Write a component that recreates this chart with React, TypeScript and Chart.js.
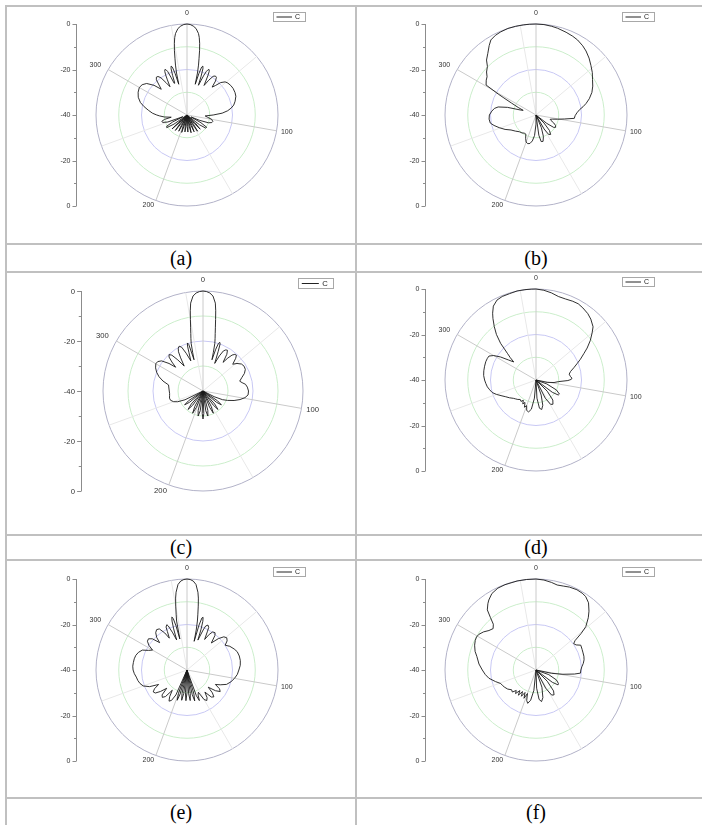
import React, { useEffect, useRef } from 'react';
import { Chart, registerables } from 'chart.js';

Chart.register(...registerables);

// ---------- categories / ticks ----------
const degreeLabels: string[] = Array.from({ length: 360 }, (_, i) => String(i));
const labelledAngles = [0, 100, 200, 300];
const radialMin = -40;
const radialMax = 0;
const radialStep = 10;
const axisTicks = [0, -10, -20, -30, -40];
const axisLabelStep = 20;
const seriesName = 'C';
const captions = ['(a)', '(b)', '(c)', '(d)', '(e)', '(f)'];

type Pair = [number, number]; // [angle in degrees, level in dB]

// ---------- series (angle, dB) ----------
const patternA: Pair[] = [
  [0, 0], [2, -0.2], [4, -0.8], [6, -1.8], [8, -3.8], [9, -5.5], [10, -8], [11, -11], [12, -14.5], [13, -17.5], [14, -21], [15, -26],
  [16, -21], [17, -18], [18, -17.4], [19, -18.5], [20, -22], [21, -26],
  [23, -21], [24, -19], [25, -18], [26, -17.8], [27, -18.5], [28, -20.5], [30, -25],
  [32, -22], [34, -19.5], [36, -18.8], [38, -19], [40, -20.5], [42, -23.5],
  [44, -22], [46, -19.5], [49, -17.8], [52, -17.2], [56, -16.8], [60, -16.6], [65, -16.7], [69, -17], [74, -18], [78, -19], [81, -20.3],
  [84, -22], [87, -24.5], [90, -28.5], [93, -32],
  [96, -31], [100, -29], [104, -28.3], [107, -28.6], [110, -30], [113, -34], [116, -38],
  [119, -33], [122, -29.8], [125, -30], [128, -33], [131, -40],
  [134, -35], [137, -31.5], [139, -35], [142, -40], [145, -35], [147, -31.5], [149, -35], [152, -40], [155, -35], [157, -32], [159, -35], [162, -40],
  [165, -35], [167, -32], [169, -35], [172, -40], [175, -35], [177, -32.5], [179, -35], [182, -40], [185, -35], [187, -32.5], [189, -35], [192, -40],
  [195, -35], [197, -32], [199, -35], [202, -40], [205, -35], [207, -32], [209, -35], [212, -40], [215, -35], [217, -31.5], [219, -35], [222, -40],
  [225, -35], [227, -31], [229, -35], [232, -40],
  [235, -33], [238, -29.5], [241, -29.8], [244, -33], [247, -38],
  [250, -31], [253, -28.8], [256, -28.6], [259, -30], [262, -33],
  [265, -30], [268, -28], [270, -26.7], [273, -24.8], [277, -22.9], [281, -20.8], [285, -18.8], [290, -17.2], [295, -16.3], [300, -15.8],
  [304, -16.2], [308, -17.5], [312, -20.5], [315, -24],
  [317, -22], [319, -19.5], [321, -18.6], [323, -18.8], [325, -20], [327, -23], [329, -25.5],
  [331, -22], [332, -20], [333, -18.5], [334, -17.8], [335, -18], [336, -19], [337, -22], [338, -25],
  [339, -25], [340, -21.5], [341, -18.5], [342, -17.4], [343, -18], [344, -21], [345, -26],
  [346, -21], [347, -17.5], [348, -14.5], [349, -11], [350, -8], [351, -5.5], [352, -3.8], [354, -1.8], [356, -0.8], [358, -0.2],
];

const patternB: Pair[] = [
  [0, 0], [5, -0.1], [10, -0.4], [14, -0.7], [20, -1.3], [25, -1.8], [29, -2.3], [34, -3.3], [38, -4.3], [43, -5.8], [48, -7.5], [53, -9],
  [58, -10.7], [63, -12], [68, -13.5], [73, -15.5], [77, -17.4], [80, -19], [83, -20.7], [87, -22], [91, -22.8], [95, -23.1], [98, -27.4],
  [101, -30.3], [104, -32.5], [107, -33.5],
  [110, -33], [114, -31.5], [118, -30.3], [122, -29.8], [125, -30.5], [128, -34], [131, -40],
  [135, -35], [139, -31], [143, -29.3], [147, -29.8], [150, -33], [153, -40],
  [157, -34], [161, -30], [165, -28], [169, -28.1], [172, -31], [175, -40],
  [180, -36], [184, -31], [188, -28.5], [192, -27.2], [196, -26.9], [200, -27.3], [204, -28.8], [208, -30.5], [213, -30.5], [218, -30],
  [225, -29.6], [232, -28.5], [239, -27.2], [245, -25], [251, -22.9], [256, -21], [260, -19.6], [265, -19.3], [270, -19.5], [275, -20.5],
  [279, -21.5], [282, -23], [285, -27], [288, -33], [290, -34], [293, -31.5], [296, -28], [298, -24], [299, -21], [301, -14.4],
  [305, -13.3], [308, -12.7], [311, -11.2], [315, -9.8], [318, -7.5], [322, -5.6], [326, -3.2], [329, -1.5], [333, -0.7], [337, -0.3],
  [342, 0], [347, 0], [352, 0], [356, 0],
];

const patternC: Pair[] = [
  [0, 0], [2, -0.2], [4, -0.7], [6, -1.8], [8, -4.5], [9, -7.5], [10, -11], [11, -14], [12, -16.5], [13, -18.5], [14, -20.5], [15, -24], [16, -27],
  [17, -22.5], [18, -20], [19, -19.4], [20, -20], [21, -23], [23, -28],
  [25, -24.5], [27, -22], [29, -21.2], [31, -21], [33, -22.5], [35, -26],
  [37, -23.5], [39, -21.5], [41, -20.6], [43, -20.4], [45, -21.5], [48, -24],
  [51, -22.5], [55, -21.2], [59, -20.8], [63, -21], [67, -22], [71, -23.6], [75, -24.8], [78, -24], [81, -22.8], [85, -22.2], [90, -21.8],
  [95, -21.9], [99, -23], [103, -24.8], [107, -27], [111, -29.5], [114, -31.5], [117, -35], [120, -40],
  [124, -33], [127, -30.8], [130, -33], [134, -40], [138, -33], [141, -30.5], [144, -33], [148, -40], [152, -33], [155, -30.2], [158, -33], [162, -40],
  [166, -32], [169, -29.8], [172, -32], [175, -40], [178, -31], [180, -28.8], [182, -31], [185, -40], [188, -32], [191, -29.8], [194, -32], [198, -40],
  [202, -33], [205, -30.2], [208, -33], [212, -40], [216, -33], [219, -30.5], [222, -33], [226, -40], [230, -33], [233, -30.8], [236, -33], [240, -40],
  [244, -32], [247, -29], [250, -27.5], [254, -26.5], [258, -26.3], [262, -26.5], [266, -26.6], [270, -26.5], [275, -26.3], [280, -26],
  [284, -23.5], [288, -21.5], [292, -20], [296, -18.9], [300, -18.2], [303, -18.4], [306, -19.5], [309, -22.5], [311, -25.5],
  [313, -23], [315, -20.8], [317, -20.1], [319, -21], [321, -24], [323, -27.5],
  [326, -24], [328, -21.5], [330, -20.2], [332, -19.7], [334, -20.5], [336, -23.5], [338, -27],
  [340, -23.5], [341, -21], [342, -19.8], [343, -20.5], [344, -27],
  [345, -24], [346, -20.5], [347, -18.5], [348, -16.5], [349, -14], [350, -11], [351, -7.5], [352, -4.5], [354, -1.8], [356, -0.7], [358, -0.2],
];

const patternD: Pair[] = [
  [0, 0], [5, -0.4], [10, -1.1], [15, -2], [20, -2.1], [25, -1.8], [29, -1.7], [33, -2.2], [38, -3], [42, -4], [47, -5.7], [50, -7.8],
  [54, -10.5], [58, -13.5], [61, -15.9], [65, -18.5], [68, -20.4], [72, -22.5], [76, -24.3], [80, -25.2], [84, -24.8], [87, -24.2],
  [89, -24.5], [91, -26], [94, -30], [98, -32], [102, -35], [106, -40],
  [110, -35], [116, -30], [121, -28], [124, -28.2], [127, -31], [131, -40],
  [135, -33], [140, -28.5], [145, -27], [149, -27.5], [153, -31], [157, -40],
  [161, -33], [165, -28.5], [169, -26.8], [173, -27.5], [177, -32], [181, -40],
  [185, -32], [189, -27], [193, -25.6], [197, -26], [200, -28], [203, -27], [206, -29], [209, -28], [212, -29.5], [215, -28.5], [219, -29],
  [223, -28.3], [227, -27.8], [231, -27.2], [236, -26], [241, -24.8], [245, -23.5], [250, -21.5], [254, -20], [258, -19.2], [262, -18.4],
  [266, -17.9], [270, -17.4], [275, -16.9], [280, -16.7], [285, -16.6], [290, -16.5], [294, -16.6], [297, -16.8], [300, -18.5],
  [303, -21.4], [306, -25], [309, -27.4], [311, -25], [313, -22.8], [316, -17.6], [319, -13.5], [322, -10.2], [325, -7], [327, -5],
  [330, -2.5], [334, -0.9], [338, -0.4], [343, -0.3], [348, 0], [353, 0], [357, 0],
];

const patternE: Pair[] = [
  [0, 0], [2, -0.2], [4, -0.8], [6, -2.2], [8, -5.5], [9, -8], [10, -11.5], [11, -15], [12, -18], [13, -22], [14, -27],
  [15, -19.5], [16, -16.2], [17, -15.8], [18, -17.5], [19, -21], [20, -26],
  [22, -21], [23, -19], [25, -18.2], [27, -19], [28, -21], [30, -24.5],
  [32, -21.5], [34, -19.8], [37, -19.5], [39, -20.5], [42, -24],
  [45, -20.5], [48, -18.2], [51, -17.5], [54, -18.2], [57, -20],
  [61, -18.5], [66, -17.3], [70, -16.5], [75, -16.2], [80, -16.2], [85, -16.5], [90, -17.2], [95, -17.8], [100, -18.8], [105, -20], [110, -21.5],
  [114, -24], [117, -26], [120, -23.5], [123, -22.6], [126, -24.5], [129, -28], [132, -25], [135, -23.3], [138, -24], [141, -27.5],
  [144, -25], [147, -24], [150, -25], [153, -29],
  [156, -28], [158, -25.5], [160, -28], [162, -40], [164, -29], [166, -26], [168, -29], [170, -40], [172, -29.5], [174, -26.5], [176, -29.5],
  [178, -40], [180, -30], [182, -26.5], [184, -30], [186, -40], [188, -29.5], [190, -26.5], [192, -29.5], [194, -40], [196, -29], [198, -26],
  [200, -29], [202, -40], [204, -28],
  [207, -25], [210, -24.2], [213, -26], [216, -29], [219, -25], [222, -23.8], [225, -24.5], [228, -28], [231, -25], [234, -22.8], [237, -22.3],
  [240, -23.5], [243, -26], [246, -22], [250, -19.5], [254, -18.5], [258, -17.9], [262, -17.5], [266, -16.8], [270, -16.3], [274, -16.1],
  [278, -16.2], [282, -16.3], [286, -16.6], [290, -17.3], [294, -18.5], [297, -21], [300, -22.5], [303, -20], [306, -18.5], [309, -18.2],
  [312, -19.5], [315, -23],
  [317, -20.5], [320, -18.6], [323, -17.8], [326, -18.2], [329, -21], [331, -24],
  [333, -21], [334, -19], [336, -18.2], [337, -19], [339, -22.5], [341, -26],
  [342, -21], [343, -17.5], [344, -15.8], [345, -16.5], [346, -20], [347, -26],
  [348, -18], [349, -15], [350, -11.5], [351, -8], [352, -5.5], [354, -2.2], [356, -0.8], [358, -0.2],
];

const patternF: Pair[] = [
  [0, 0], [5, -0.3], [10, -0.9], [14, -1.5], [18, -1.2], [22, -0.7], [27, -0.4], [31, -0.6], [34, -1], [38, -2.5], [42, -5.2], [45, -7.5],
  [49, -11], [51, -14.5], [53, -18.5], [55, -19.8], [58, -19.2], [61, -17.5], [66, -17.8], [70, -18], [74, -18.1], [78, -18.4], [82, -19],
  [86, -19.8], [90, -20.3], [94, -20.4], [96, -23], [99, -28], [102, -33], [106, -40],
  [110, -34], [116, -30], [121, -28.5], [124, -28.3], [127, -31], [131, -40],
  [135, -33], [140, -28], [144, -26.5], [148, -27], [152, -31], [157, -40],
  [161, -32], [166, -27.5], [170, -25.9], [174, -27], [178, -32], [182, -40],
  [186, -31], [190, -26.5], [194, -24.9], [197, -26], [200, -29], [203, -26.5], [206, -29], [209, -26.8], [212, -28.8], [215, -26.5],
  [218, -28.5], [221, -26.3], [224, -27.5], [227, -25.8], [231, -26.2], [236, -25], [241, -24.3], [245, -23.8], [249, -23.4], [254, -21.5],
  [260, -19], [265, -17.6], [270, -16.4], [276, -14.8], [283, -13.3], [287, -12], [292, -10.9], [296, -10.3], [299, -10.1], [302, -10.4],
  [306, -11.5], [310, -13], [314, -13.8], [317, -12.5], [319, -9.5], [321, -6], [324, -4], [326, -2.9], [330, -1.2], [335, -0.3],
  [340, -0.1], [348, 0], [354, 0],
];

// ---------- layout (page px) ----------
const PAGE_W = 702;
const PAGE_H = 825;
const BORDER = '#c0c0c0';
const hLines = [5, 243, 271, 534, 559, 797];
const vLines = [5, 355];

type Panel = { pairs: Pair[]; cell: [number, number, number, number]; cx: number; cy: number; R: number };
const panels: Panel[] = [
  { pairs: patternA, cell: [7, 7, 348, 236], cx: 187, cy: 115, R: 91 },
  { pairs: patternB, cell: [357, 7, 345, 236], cx: 536, cy: 115, R: 91 },
  { pairs: patternC, cell: [7, 273, 348, 261], cx: 203, cy: 391, R: 100 },
  { pairs: patternD, cell: [357, 273, 345, 261], cx: 536, cy: 380, R: 91 },
  { pairs: patternE, cell: [7, 561, 348, 236], cx: 187, cy: 670, R: 91 },
  { pairs: patternF, cell: [357, 561, 345, 236], cx: 536, cy: 670, R: 91 },
];
const captionBoxes: [number, number, number, number][] = [
  [7, 245, 348, 26], [357, 245, 358, 26],
  [7, 536, 348, 23], [357, 536, 358, 23],
  [7, 799, 348, 26], [357, 799, 358, 26],
];

function toSeries(pairs: Pair[]): (number | null)[] {
  const out: (number | null)[] = degreeLabels.map(() => null);
  for (const [a, v] of pairs) out[a] = v;
  return out;
}

function ringColor(v: number | undefined): string {
  if (v === 0) return '#b2b2c8';
  if (v === -20) return '#c8c8f4';
  if (v === -10 || v === -30) return '#cbeecb';
  return 'rgba(0,0,0,0)';
}

const decorPlugin = {
  id: 'polarDecor',
  afterDraw(chart: any) {
    const s = chart.scales.r;
    const ctx = chart.ctx as CanvasRenderingContext2D;
    const R = s.drawingArea;
    const cx = s.xCenter;
    const cy = s.yCenter;
    const k = R / 91;
    ctx.save();
    // left radial axis (0 .. -40 .. 0)
    const ax = Math.round(cx - R - 20 * k) + 0.5;
    const outer = s.getDistanceFromCenterForValue(radialMax);
    ctx.strokeStyle = '#8c8c8c';
    ctx.lineWidth = 1;
    ctx.beginPath();
    ctx.moveTo(ax, cy - outer);
    ctx.lineTo(ax, cy + outer);
    ctx.stroke();
    ctx.font = `${(7 * k).toFixed(1)}px "Liberation Sans", Arial, sans-serif`;
    ctx.fillStyle = '#333333';
    ctx.textAlign = 'right';
    ctx.textBaseline = 'middle';
    for (const side of [-1, 1]) {
      for (const v of axisTicks) {
        if (side === 1 && v === radialMin) continue;
        const y = Math.round(cy + side * s.getDistanceFromCenterForValue(v)) + 0.5;
        const major = v % axisLabelStep === 0;
        const len = (major ? 4 : 2.5) * k;
        ctx.beginPath();
        ctx.moveTo(ax - len, y);
        ctx.lineTo(ax, y);
        ctx.stroke();
        if (major) ctx.fillText(String(v === 0 ? 0 : v), ax - 6 * k, y);
      }
    }
    // legend box
    const label = chart.data.datasets[0].label;
    const lx = Math.round(cx + 0.95 * R) + 0.5;
    const ly = Math.round(cy - 1.135 * R) + 0.5;
    const lw = Math.round(0.35 * R);
    const lh = Math.round(0.1 * R);
    ctx.strokeStyle = '#a8a8a8';
    ctx.strokeRect(lx, ly, lw, lh);
    ctx.strokeStyle = '#222222';
    ctx.beginPath();
    ctx.moveTo(lx + 3 * k, ly + lh / 2);
    ctx.lineTo(lx + 18.5 * k, ly + lh / 2);
    ctx.stroke();
    ctx.fillStyle = '#222222';
    ctx.textAlign = 'left';
    ctx.fillText(label, lx + 21.5 * k, ly + lh / 2 + 0.5);
    ctx.restore();
  },
};

function PolarChart({ panel }: { panel: Panel }) {
  const ref = useRef<HTMLCanvasElement>(null);
  useEffect(() => {
    const { pairs, cell, cx, cy, R } = panel;
    const [L, T, Wc, Hc] = cell;
    const k = R / 91;
    const fontSize = 7 * k;
    const lhSmall = 0.1 * fontSize;
    const mTop = Math.round(R * 11 / 91);
    const Hca = 2 * (R + mTop);
    const shift = Math.floor((mTop - lhSmall) / 2);
    const top = cy - T - shift - (R + mTop);
    const halfW = R + 40;
    const left = cx - L - halfW;
    const labelPadding: Record<number, number> = { 0: mTop - lhSmall, 100: 4.4 * k, 200: 5 * k, 300: 8 * k };
    const chart = new Chart(ref.current as HTMLCanvasElement, {
      type: 'radar',
      data: {
        labels: degreeLabels,
        datasets: [
          {
            label: seriesName,
            data: toSeries(pairs),
            borderColor: '#1a1a1a',
            borderWidth: 0.9,
            pointRadius: 0,
            pointHoverRadius: 0,
            fill: false,
            spanGaps: true,
            tension: 0,
            borderJoinStyle: 'round',
          } as any,
        ],
      },
      options: {
        responsive: false,
        animation: false,
        devicePixelRatio: 1,
        events: [],
        layout: { padding: { top, left, right: Wc - left - 2 * halfW, bottom: Hc - top - Hca } },
        plugins: { legend: { display: false }, tooltip: { enabled: false }, title: { display: false } },
        scales: {
          r: {
            min: radialMin,
            max: radialMax,
            ticks: { display: false, stepSize: radialStep },
            grid: { circular: true, lineWidth: 1, color: (c: any) => ringColor(c.tick ? c.tick.value : undefined) },
            angleLines: {
              display: true,
              color: (c: any) => (c.index % 100 === 0 ? '#cacaca' : '#e8e8e8'),
              lineWidth: (c: any) => (c.index % 50 === 0 ? 1 : 0),
            },
            pointLabels: {
              display: true,
              color: '#333333',
              font: { size: fontSize, family: '"Liberation Sans", Arial, sans-serif', lineHeight: 0.1 },
              padding: (c: any) => labelPadding[c.index] ?? 0,
              callback: (lab: string, index: number) => (labelledAngles.includes(index) ? lab : ''),
            },
          },
        },
      } as any,
      plugins: [decorPlugin],
    });
    return () => chart.destroy();
  }, [panel]);
  const [L, T, Wc, Hc] = panel.cell;
  return (
    <canvas
      ref={ref}
      width={Wc}
      height={Hc}
      style={{ position: 'absolute', left: L, top: T, width: Wc, height: Hc }}
    />
  );
}

export default function App() {
  return (
    <div
      style={{
        position: 'absolute',
        left: 0,
        top: 0,
        width: PAGE_W,
        height: PAGE_H,
        background: '#ffffff',
        overflow: 'hidden',
      }}
    >
      {hLines.map((y) => (
        <div key={'h' + y} style={{ position: 'absolute', left: 5, top: y, width: PAGE_W - 5, height: 2, background: BORDER }} />
      ))}
      {vLines.map((x) => (
        <div key={'v' + x} style={{ position: 'absolute', left: x, top: 5, width: 2, height: PAGE_H - 5, background: BORDER }} />
      ))}
      {panels.map((p, i) => (
        <PolarChart key={i} panel={p} />
      ))}
      {captionBoxes.map(([x, y, w, h], i) => (
        <div
          key={'c' + i}
          style={{
            position: 'absolute',
            left: x,
            top: y,
            width: w,
            height: h,
            display: 'flex',
            alignItems: 'center',
            justifyContent: 'center',
            fontFamily: '"Liberation Serif", "Times New Roman", serif',
            fontSize: 20,
            color: '#000',
          }}
        >
          {captions[i]}
        </div>
      ))}
    </div>
  );
}
